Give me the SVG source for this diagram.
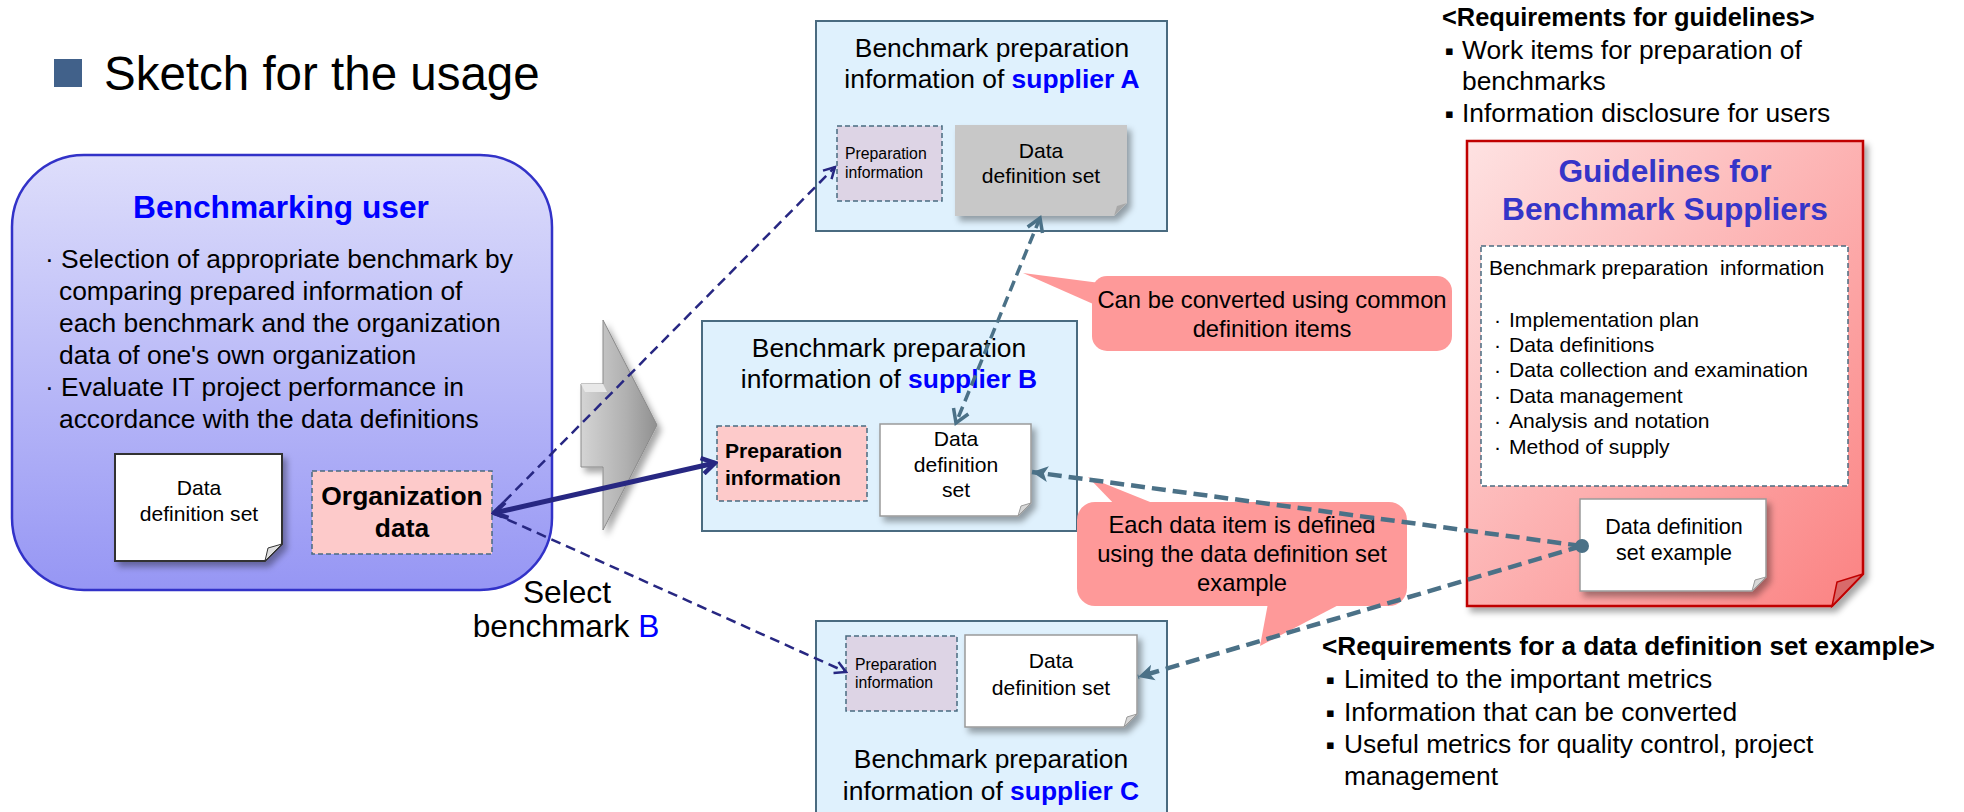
<svg xmlns="http://www.w3.org/2000/svg" width="1964" height="812" viewBox="0 0 1964 812">
<style>
text{font-family:"Liberation Sans",Arial,sans-serif;fill:#000}
.c{text-anchor:middle}
.b{font-weight:bold}
.blue{fill:#0000ff;font-weight:bold}
.sup{fill:#dff1fd;stroke:#4a6b80;stroke-width:2}
.prep{fill:#ddd4e5;stroke:#4a6b80;stroke-width:1.5;stroke-dasharray:5 3}
.pink{fill:#fdcaca;stroke:#4a6b80;stroke-width:1.5;stroke-dasharray:5 3}
.doc{fill:#fff;stroke:#9a9a9a;stroke-width:1.5}
.flap{fill:#d8d8d8;stroke:#9a9a9a;stroke-width:1}
.call{fill:#fe9999}
.t26{font-size:26.4px}
.t21{font-size:21.1px}
.t16{font-size:15.8px}
.t24{font-size:23.8px}
.bul{font-size:13px;font-family:"DejaVu Sans",sans-serif}
.navy{stroke:#272782;fill:none}
.steel{stroke:#4b7187;fill:none}
</style>
<defs>
<linearGradient id="gUser" x1="0" y1="0" x2="0" y2="1">
<stop offset="0" stop-color="#dedefb"/>
<stop offset="1" stop-color="#9696f4"/>
</linearGradient>
<linearGradient id="gGuide" x1="0" y1="0" x2="1" y2="1">
<stop offset="0" stop-color="#fee2e2"/>
<stop offset="1" stop-color="#fb8282"/>
</linearGradient>
<linearGradient id="gArrow" x1="0" y1="0" x2="1" y2="0">
<stop offset="0" stop-color="#d4d4d4"/>
<stop offset="0.6" stop-color="#b0b0b0"/>
<stop offset="1" stop-color="#909090"/>
</linearGradient>
<filter id="sh" x="-20%" y="-20%" width="150%" height="150%">
<feDropShadow dx="4" dy="5" stdDeviation="3" flood-color="#000" flood-opacity="0.35"/>
</filter>
<marker id="mNavyThin" viewBox="0 0 16 16" refX="14" refY="8" markerWidth="16" markerHeight="16" markerUnits="userSpaceOnUse" orient="auto-start-reverse">
<path d="M3,2 L14,8 L3,14" fill="none" stroke="#272782" stroke-width="2.5"/>
</marker>
<marker id="mNavyThick" viewBox="0 0 20 20" refX="17" refY="10" markerWidth="20" markerHeight="20" markerUnits="userSpaceOnUse" orient="auto-start-reverse">
<path d="M4,2 L17,10 L4,18" fill="none" stroke="#272782" stroke-width="4.5"/>
</marker>
<marker id="mSteelOpen" viewBox="0 0 20 20" refX="17" refY="10" markerWidth="20" markerHeight="20" markerUnits="userSpaceOnUse" orient="auto-start-reverse">
<path d="M4,2 L17,10 L4,18" fill="none" stroke="#4b7187" stroke-width="3.5"/>
</marker>
<marker id="mSteelFill" viewBox="0 0 20 20" refX="18" refY="10" markerWidth="20" markerHeight="20" markerUnits="userSpaceOnUse" orient="auto">
<path d="M2,2 L18,10 L2,18 L6,10 Z" fill="#4b7187"/>
</marker>
</defs>

<rect x="0" y="0" width="1964" height="812" fill="#fff"/>

<g id="title">
<rect x="54" y="59" width="28" height="28" fill="#41618a"/>
<text x="104" y="90" style="font-size:47.5px">Sketch for the usage</text>
</g>

<g id="benchmarking-user">
<rect x="12" y="155" width="540" height="435" rx="72" fill="url(#gUser)" stroke="#3232c8" stroke-width="2.5"/>
<text x="281" y="218" class="c b" style="font-size:31.7px;fill:#0000ff">Benchmarking user</text>
<text class="t26" x="45" y="268">· Selection of appropriate benchmark by</text>
<text class="t26" x="59" y="300">comparing prepared information of</text>
<text class="t26" x="59" y="332">each benchmark and the organization</text>
<text class="t26" x="59" y="364">data of one's own organization</text>
<text class="t26" x="45" y="396">· Evaluate IT project performance in</text>
<text class="t26" x="59" y="428">accordance with the data definitions</text>
</g>

<g id="user-data-definition-set">
<path d="M115,454 H282 V544 L265,561 H115 Z" fill="#fff" stroke="#333" stroke-width="2" filter="url(#sh)"/>
<path d="M265,561 L282,544 L268,548 Z" fill="#e0e0e0" stroke="#333" stroke-width="1"/>
<text class="c t21" x="199" y="495">Data</text>
<text class="c t21" x="199" y="521">definition set</text>
</g>

<g id="organization-data">
<rect x="312" y="471" width="180" height="83" class="pink"/>
<text class="c b t26" x="402" y="505">Organization</text>
<text class="c b t26" x="402" y="537">data</text>
</g>

<g id="select-label">
<text class="c" x="567" y="603" style="font-size:31.7px">Select</text>
<text class="c" x="566" y="637" style="font-size:31.7px">benchmark <tspan style="fill:#0000ff">B</tspan></text>
</g>

<g id="gray-arrow">
<polygon points="603,320 657,425 603,530 603,467 581,467 581,384 603,384" fill="url(#gArrow)" stroke="#8a8a8a" stroke-width="1" filter="url(#sh)"/>
<polygon points="581,384 603,384 607,392 585,392" fill="#e8e8e8"/>
</g>

<g id="supplier-a">
<rect x="816" y="21" width="351" height="210" class="sup"/>
<text class="c t26" x="992" y="57">Benchmark preparation</text>
<text class="c t26" x="992" y="88">information of <tspan class="blue">supplier A</tspan></text>
<rect x="837" y="126" width="105" height="75" class="prep"/>
<text class="t16" x="845" y="159">Preparation</text>
<text class="t16" x="845" y="178">information</text>
<path d="M955,125 H1127 V203 L1114,216 H955 Z" fill="#c8c8c8" filter="url(#sh)"/>
<path d="M1114,216 L1127,203 L1117,206 Z" fill="#a8a8a8"/>
<text class="c t21" x="1041" y="158">Data</text>
<text class="c t21" x="1041" y="183">definition set</text>
</g>

<g id="supplier-b">
<rect x="702" y="321" width="375" height="210" class="sup"/>
<text class="c t26" x="889" y="357">Benchmark preparation</text>
<text class="c t26" x="889" y="388">information of <tspan class="blue">supplier B</tspan></text>
<rect x="717" y="426" width="150" height="75" class="pink"/>
<text class="b t21" x="725" y="458">Preparation</text>
<text class="b t21" x="725" y="485">information</text>
<path d="M880,424 H1031 V503 L1018,516 H880 Z" class="doc" filter="url(#sh)"/>
<path d="M1018,516 L1031,503 L1021,506 Z" class="flap"/>
<text class="c t21" x="956" y="446">Data</text>
<text class="c t21" x="956" y="472">definition</text>
<text class="c t21" x="956" y="497">set</text>
</g>

<g id="supplier-c">
<rect x="816" y="621" width="351" height="196" class="sup"/>
<rect x="846" y="636" width="111" height="75" class="prep"/>
<text class="t16" x="855" y="670">Preparation</text>
<text class="t16" x="855" y="688">information</text>
<path d="M965,635 H1137 V714 L1124,727 H965 Z" class="doc" filter="url(#sh)"/>
<path d="M1124,727 L1137,714 L1127,717 Z" class="flap"/>
<text class="c t21" x="1051" y="668">Data</text>
<text class="c t21" x="1051" y="695">definition set</text>
<text class="c t26" x="991" y="768">Benchmark preparation</text>
<text class="c t26" x="991" y="800">information of <tspan class="blue">supplier C</tspan></text>
</g>

<g id="callout-convert">
<polygon points="1023,273 1100,283 1100,307" class="call"/>
<rect x="1092" y="276" width="360" height="75" rx="15" class="call"/>
<text class="c t24" x="1272" y="308">Can be converted using common</text>
<text class="c t24" x="1272" y="337">definition items</text>
</g>

<g id="callout-defined">
<polygon points="1088,477 1118,508 1165,508" class="call"/>
<polygon points="1260,646 1269,598 1352,598" class="call"/>
<rect x="1077" y="502" width="330" height="104" rx="18" class="call"/>
<text class="c t24" x="1242" y="533">Each data item is defined</text>
<text class="c t24" x="1242" y="562">using the data definition set</text>
<text class="c t24" x="1242" y="591">example</text>
</g>

<g id="requirements-guidelines">
<text class="b" x="1442" y="26" style="font-size:25.4px">&lt;Requirements for guidelines&gt;</text>
<text class="bul" x="1445" y="55">▪</text>
<text class="t26" x="1462" y="59">Work items for preparation of</text>
<text class="t26" x="1462" y="90">benchmarks</text>
<text class="bul" x="1445" y="118">▪</text>
<text class="t26" x="1462" y="122">Information disclosure for users</text>
</g>

<g id="guidelines">
<path d="M1467,141 H1863 V574 L1832,606 H1467 Z" fill="url(#gGuide)" stroke="#c00000" stroke-width="2.5" filter="url(#sh)"/>
<path d="M1832,606 L1863,574 L1837,582 Z" fill="#d86a6a" stroke="#c00000" stroke-width="1.5"/>
<text class="c b" x="1665" y="182" style="font-size:31.7px;fill:#3535c8">Guidelines for</text>
<text class="c b" x="1665" y="220" style="font-size:31.7px;fill:#3535c8">Benchmark Suppliers</text>
<rect x="1481" y="246" width="367" height="240" fill="#fff" stroke="#4a6b80" stroke-width="1.5" stroke-dasharray="5 3"/>
<text class="t21" x="1489" y="275" xml:space="preserve">Benchmark preparation  information</text>
<text class="t21" x="1494" y="327">·</text><text class="t21" x="1509" y="327">Implementation plan</text>
<text class="t21" x="1494" y="352">·</text><text class="t21" x="1509" y="352">Data definitions</text>
<text class="t21" x="1494" y="377">·</text><text class="t21" x="1509" y="377">Data collection and examination</text>
<text class="t21" x="1494" y="403">·</text><text class="t21" x="1509" y="403">Data management</text>
<text class="t21" x="1494" y="428">·</text><text class="t21" x="1509" y="428">Analysis and notation</text>
<text class="t21" x="1494" y="454">·</text><text class="t21" x="1509" y="454">Method of supply</text>
</g>

<g id="data-definition-set-example">
<path d="M1580,499 H1766 V577 L1752,591 H1580 Z" class="doc" filter="url(#sh)"/>
<path d="M1752,591 L1766,577 L1755,580 Z" class="flap"/>
<text class="c" x="1674" y="534" style="font-size:21.5px">Data definition</text>
<text class="c" x="1674" y="560" style="font-size:21.5px">set example</text>
</g>

<g id="requirements-example">
<text class="b" x="1322" y="655" style="font-size:26.2px">&lt;Requirements for a data definition set example&gt;</text>
<text class="bul" x="1326" y="684">▪</text>
<text class="t26" x="1344" y="688">Limited to the important metrics</text>
<text class="bul" x="1326" y="717">▪</text>
<text class="t26" x="1344" y="721">Information that can be converted</text>
<text class="bul" x="1326" y="749">▪</text>
<text class="t26" x="1344" y="753">Useful metrics for quality control, project</text>
<text class="t26" x="1344" y="785">management</text>
</g>

<g id="connectors">
<line x1="493" y1="513" x2="835" y2="167" class="navy" stroke-width="2.5" stroke-dasharray="10 6" marker-end="url(#mNavyThin)"/>
<line x1="493" y1="513" x2="846" y2="672" class="navy" stroke-width="2.5" stroke-dasharray="10 6" marker-end="url(#mNavyThin)"/>
<line x1="494" y1="513" x2="715" y2="463" class="navy" stroke-width="5" marker-start="url(#mNavyThick)" marker-end="url(#mNavyThick)"/>
<line x1="1040" y1="218" x2="956" y2="423" class="steel" stroke-width="3.5" stroke-dasharray="11 6" marker-start="url(#mSteelOpen)" marker-end="url(#mSteelOpen)"/>
<line x1="1582" y1="546" x2="1032" y2="472" class="steel" stroke-width="4.5" stroke-dasharray="14 7" marker-end="url(#mSteelFill)"/>
<line x1="1582" y1="546" x2="1138" y2="677" class="steel" stroke-width="4.5" stroke-dasharray="14 7" marker-end="url(#mSteelFill)"/>
<circle cx="1582" cy="546" r="7" fill="#4b7187"/>
</g>
</svg>
